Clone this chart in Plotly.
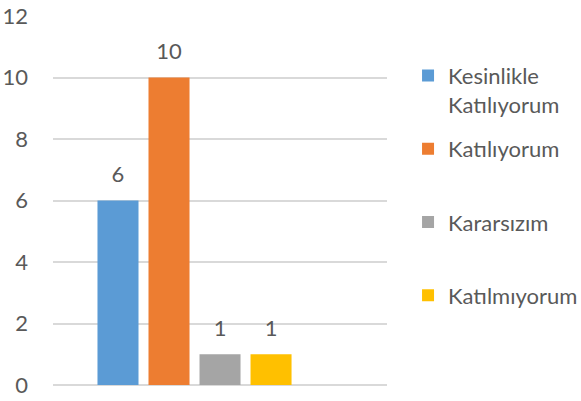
import plotly.graph_objects as go

series_names = ["Kesinlikle<br>Katılıyorum", "Katılıyorum", "Kararsızım", "Katılmıyorum"]
values = [6, 10, 1, 1]
colors = ["#5B9BD5", "#ED7D31", "#A5A5A5", "#FFC000"]
category = [""]

FONT = "Lato"
TXT = "#595959"
FS = 22

fig = go.Figure()
for i, (name, v, c) in enumerate(zip(series_names, values, colors)):
    label = name if "<br>" in name else name + "<br> "
    fig.add_trace(go.Bar(
        x=category, y=[v], name=label, marker=dict(color=c, line=dict(width=0)),
        offsetgroup=str(i), legendgroup=str(i), hoverinfo="skip",
    ))
for i, v in enumerate(values):
    fig.add_trace(go.Scatter(
        x=category, y=[v], mode="markers+text", text=[str(v)],
        textposition="top center", textfont=dict(family=FONT, size=FS, color=TXT),
        marker=dict(size=19, opacity=0), offsetgroup=str(i), showlegend=False,
        hoverinfo="skip", cliponaxis=False,
    ))

fig.update_layout(
    width=581, height=401,
    margin=dict(l=53, r=194, t=16, b=16, autoexpand=False),
    paper_bgcolor="white", plot_bgcolor="white",
    barmode="group", bargap=0.389, bargroupgap=0.196,
    scattermode="group", scattergap=0.389,
    font=dict(family=FONT, size=FS, color=TXT),
    showlegend=True,
    legend=dict(
        x=1.063, xanchor="left", y=0.895, yanchor="top",
        traceorder="grouped", tracegroupgap=13, valign="top",
        font=dict(family=FONT, size=FS, color=TXT),
        bgcolor="rgba(0,0,0,0)", itemclick=False,
    ),
    xaxis=dict(type="category", range=[-0.4237, 0.5763], showticklabels=False,
               showgrid=False, zeroline=False, showline=False, ticks="",
               automargin=False),
    yaxis=dict(range=[0, 12], dtick=2, showgrid=True, gridcolor="#D9D9D9", gridwidth=1.5,
               zeroline=True, zerolinecolor="#D9D9D9", zerolinewidth=1.5,
               showline=False, ticks="", ticklabelstandoff=24, automargin=False,
               tickfont=dict(family=FONT, size=FS, color=TXT)),
)

fig.write_html("out.html", config={"displayModeBar": False},
               post_script="document.body.style.margin='0';")
